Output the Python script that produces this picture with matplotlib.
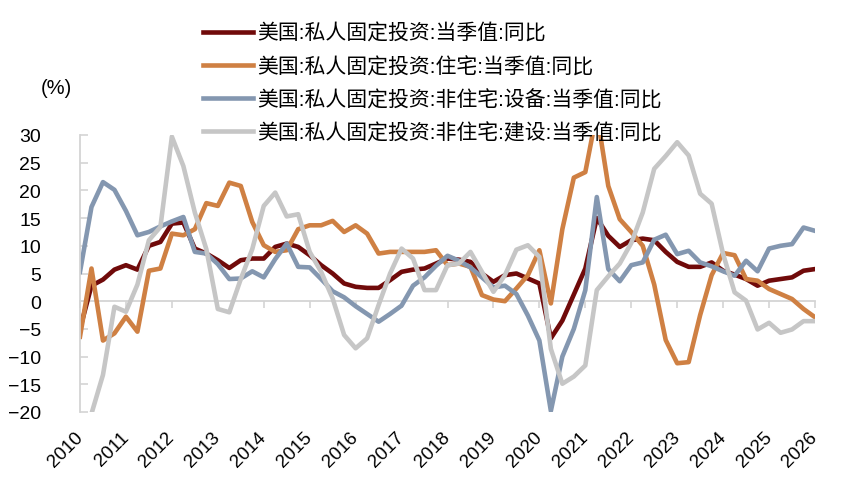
import matplotlib
matplotlib.use("Agg")
import matplotlib.pyplot as plt
import numpy as np

plt.rcParams["font.family"] = ["Liberation Sans", "Noto Sans CJK SC", "DejaVu Sans"]

# quarterly, 2010Q1 .. 2026Q1 (65 points)
quarters = [2010 + i / 4 for i in range(65)]
years = list(range(2010, 2027))

total = [-5.0, 2.8, 3.9, 5.7, 6.5, 5.7, 10.0, 10.7, 14.0, 14.2,
         9.5, 8.6, 7.4, 6.0, 7.4, 7.7, 7.7, 9.8, 10.4, 9.8,
         8.3, 6.5, 5.0, 3.2, 2.6, 2.4, 2.4, 3.8, 5.3, 5.7,
         5.9, 6.8, 7.7, 7.5, 7.1, 5.0, 3.5, 4.7, 5.0, 4.1,
         3.2, -6.7, -3.5, 1.2, 5.9, 15.0, 11.8, 9.8, 11.0, 11.3,
         11.0, 8.9, 7.1, 6.2, 6.2, 7.0, 5.5, 4.8, 4.0, 2.8,
         3.7, 4.0, 4.3, 5.5, 5.8]
residential = [-6.4, 5.9, -7.1, -5.8, -2.8, -5.5, 5.5, 5.9, 12.2, 11.9,
               13.0, 17.7, 17.2, 21.4, 20.8, 14.3, 10.1, 8.9, 9.2, 13.0,
               13.7, 13.7, 14.5, 12.5, 13.7, 12.2, 8.6, 8.9, 8.9, 8.9,
               8.9, 9.2, 6.5, 6.8, 6.2, 1.1, 0.3, 0.0, 2.3, 4.7,
               9.2, -0.4, 13.0, 22.3, 23.3, 34.0, 20.8, 14.8, 12.5, 10.0,
               3.0, -7.0, -11.2, -11.0, -2.5, 4.7, 8.7, 8.3, 4.0, 3.7,
               2.2, 1.3, 0.4, -1.4, -2.9]
equipment = [5.3, 17.0, 21.5, 20.1, 16.3, 11.9, 12.5, 13.5, 14.4, 15.2,
             8.9, 8.6, 6.7, 4.0, 4.1, 5.4, 4.3, 7.6, 10.4, 6.2,
             6.1, 4.0, 1.8, 0.7, -0.9, -2.3, -3.7, -2.3, -0.8, 2.8,
             4.3, 6.4, 8.2, 7.3, 6.1, 4.3, 2.5, 2.8, 1.3, -2.6,
             -7.1, -19.8, -10.0, -5.0, 2.0, 18.8, 5.8, 3.6, 6.5, 7.0,
             11.1, 12.0, 8.5, 9.1, 7.0, 6.3, 5.4, 4.6, 7.3, 5.4,
             9.5, 10.0, 10.3, 13.3, 12.7]
structures = [-26.0, -20.3, -13.3, -1.0, -1.9, 3.0, 11.0, 13.4, 29.7, 24.4,
              16.0, 9.4, -1.4, -2.0, 4.0, 9.4, 17.2, 19.6, 15.3, 15.7,
              8.9, 5.3, 0.5, -6.1, -8.5, -6.7, -0.7, 5.0, 9.5, 7.7,
              2.0, 2.0, 6.5, 6.8, 8.9, 5.3, 1.7, 4.7, 9.3, 10.1,
              8.0, -8.6, -14.9, -13.6, -11.6, 2.0, 4.5, 6.8, 10.5, 16.0,
              23.9, 26.2, 28.7, 26.3, 19.4, 17.6, 8.5, 1.6, 0.1, -5.1,
              -3.9, -5.7, -5.1, -3.6, -3.6]

labels = ["美国:私人固定投资:当季值:同比",
          "美国:私人固定投资:住宅:当季值:同比",
          "美国:私人固定投资:非住宅:设备:当季值:同比",
          "美国:私人固定投资:非住宅:建设:当季值:同比"]
colors = ["#700a0a", "#cf8043", "#8497b0", "#c6c6c6"]

W, H = 848, 481
fig = plt.figure(figsize=(W / 100, H / 100), dpi=100)
ax = fig.add_axes([80 / W, 1 - 413 / H, (815 - 80) / W, (413 - 136) / H])

for series, lab, c in zip([total, residential, equipment, structures], labels, colors):
    ax.plot(quarters, series, color=c, lw=3.3, label=lab, solid_joinstyle="round")

ymin, ymax = -20, 30
ax.set_xlim(2010, 2026)
ax.set_ylim(ymin, ymax)
ax.set_yticks(np.arange(-20, 31, 5))

axis_grey = "#d4d4d4"
for s in ["top", "right", "bottom"]:
    ax.spines[s].set_visible(False)
ax.spines["left"].set_color(axis_grey)
ax.spines["left"].set_linewidth(1.3)
ax.tick_params(axis="y", direction="in", length=6, width=1.2, color=axis_grey,
               labelsize=14, pad=28)

# year labels at the bottom, tick marks on the zero line
ax.set_xticks(years)
ax.set_xticklabels([str(y) for y in years], rotation=45, ha="right", va="center",
                   rotation_mode="anchor", fontsize=13.5)
ax.tick_params(axis="x", length=0, pad=16)

zero = ax.secondary_xaxis((0 - ymin) / (ymax - ymin))
zero.set_xticks(years)
zero.set_xticklabels([])
zero.spines["bottom"].set_color(axis_grey)
zero.spines["bottom"].set_linewidth(1.3)
zero.tick_params(axis="x", direction="out", length=5, width=1.2, color=axis_grey)

fig.text(56 / W, 1 - 88 / H, "(%)", ha="center", va="center", fontsize=14.5)

fig.legend(loc="upper left", bbox_to_anchor=(203 / W, 1 - 24 / H),
           bbox_transform=fig.transFigure, frameon=False, fontsize=15,
           handlelength=2.4, handletextpad=0.2, labelspacing=0.62,
           borderpad=0, borderaxespad=0)

fig.savefig("out.png", dpi=100, facecolor="white")
